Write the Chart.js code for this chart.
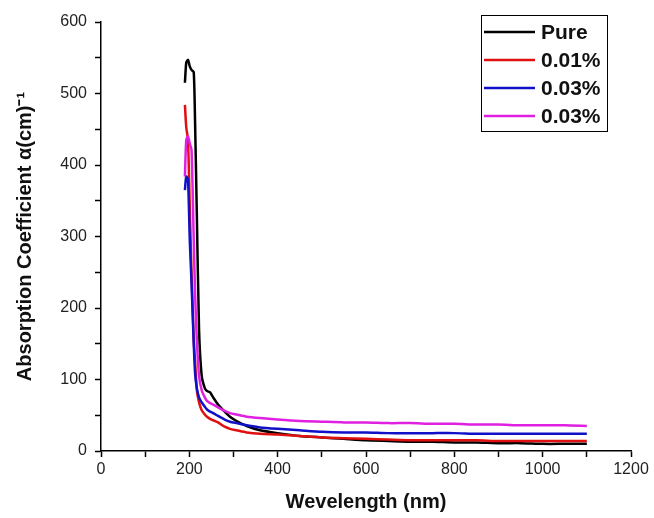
<!DOCTYPE html>
<html>
<head>
<meta charset="UTF-8">
<title>Absorption Coefficient</title>
<script src="https://cdn.jsdelivr.net/npm/chart.js"></script>
<style>
    body { margin: 0; background: #fff; }
    .wrap { position: relative; width: 654px; height: 518px; }
</style>
</head>
<body>
<div class="wrap"><canvas id="absChart" width="654" height="518"></canvas></div>
<script>
// data (wavelength in nm, alpha in cm^-1)
const wavelength = [190, 193, 197, 201, 205, 210, 213, 217, 222, 228, 235, 240, 247, 254, 265, 280, 292, 307, 330, 360, 400, 450, 500, 550, 600, 650, 700, 750, 800, 850, 900, 950, 1000, 1050, 1100];
const pure    = [515, 543, 547, 538, 533, 530, 460, 330, 170, 105, 88, 84, 82, 75, 65, 55, 48, 42, 35, 29, 25, 21, 19, 17, 15, 14, 13, 13, 12, 12, 11, 11, 10, 10, 10];
const pct001  = [484, 453, 435, 341, 249, 155, 125, 85, 68, 57, 51, 48, 45, 43, 40, 34, 31, 29, 26, 24, 23, 21, 19, 18, 17, 16, 15, 15, 15, 15, 14, 14, 14, 14, 14];
const pct003a = [365, 384, 380, 295, 235, 150, 109, 88, 75, 68, 62, 58, 55, 53, 49, 44, 41, 39, 36, 33, 31, 29, 27, 26, 26, 25, 25, 25, 25, 24, 24, 24, 24, 24, 24];
const pct003b = [384, 435, 440, 430, 421, 295, 220, 155, 105, 85, 75, 70, 67, 65, 61, 56, 53, 51, 48, 46, 44, 42, 41, 40, 40, 39, 39, 38, 38, 37, 37, 36, 36, 36, 35];
const seriesNames = ['Pure', '0.01%', '0.03%', '0.03%'];
const seriesColors = ['#000000', '#e01010', '#1010c8', '#e020e0'];

const xTicks = [0, 200, 400, 600, 800, 1000, 1200];
const yTicks = [0, 100, 200, 300, 400, 500, 600];

const FONT = 'Arial, "Liberation Sans", sans-serif';

function points(vals) {
    return wavelength.map((w, i) => ({ x: w, y: vals[i] }));
}

const allSeries = [pure, pct001, pct003a, pct003b];
const datasets = allSeries.map((vals, i) => ({
    label: seriesNames[i],
    data: points(vals),
    borderColor: seriesColors[i],
    backgroundColor: seriesColors[i],
    borderWidth: 2.5,
    pointRadius: 0,
    showLine: true,
    tension: 0.2,
    order: 4 - i
}));

// legend box drawn inside the plot, like the original
const boxLegend = {
    id: 'boxLegend',
    afterDraw(chart) {
        const ctx = chart.ctx;
        const left = 481, top = 15, w = 126, rowH = 28;
        ctx.save();
        ctx.strokeStyle = '#000';
        ctx.lineWidth = 1;
        ctx.strokeRect(left + 0.5, top + 0.5, w, rowH * 4 + 4);
        ctx.font = 'bold 21px ' + FONT;
        ctx.textBaseline = 'middle';
        chart.data.datasets.forEach((ds, i) => {
            const y = top + 17 + i * rowH;
            ctx.strokeStyle = ds.borderColor;
            ctx.lineWidth = 2.5;
            ctx.beginPath();
            ctx.moveTo(left + 3, y);
            ctx.lineTo(left + 54, y);
            ctx.stroke();
            ctx.fillStyle = '#111';
            ctx.fillText(ds.label, left + 60, y + 1);
        });
        ctx.restore();
    }
};

new Chart(document.getElementById('absChart'), {
    type: 'scatter',
    data: { datasets: datasets },
    plugins: [boxLegend],
    options: {
        responsive: false,
        animation: false,
        layout: { padding: { left: 0, top: 22, right: 23, bottom: 0 } },
        plugins: {
            legend: { display: false },
            tooltip: { enabled: false }
        },
        scales: {
            x: {
                type: 'linear',
                min: 0, max: 1200,
                afterFit(s) { s.height = 67; },
                afterBuildTicks(s) {
                    s.ticks = [];
                    for (let v = 0; v <= 1200; v += 100) s.ticks.push({ value: v });
                },
                ticks: {
                    color: '#222',
                    font: { family: FONT, size: 16 },
                    padding: 3,
                    autoSkip: false,
                    maxRotation: 0,
                    callback: v => xTicks.includes(v) ? v : ''
                },
                grid: {
                    display: true,
                    drawOnChartArea: false,
                    tickLength: 6,
                    tickColor: '#000',
                    tickWidth: 1.5
                },
                border: { color: '#000', width: 1.5 },
                title: {
                    display: true,
                    text: 'Wevelength (nm)',
                    color: '#111',
                    font: { family: FONT, size: 20, weight: 'bold' },
                    padding: { top: 2 }
                }
            },
            y: {
                type: 'linear',
                min: 0, max: 600,
                afterFit(s) { s.width = 101; },
                afterBuildTicks(s) {
                    s.ticks = [];
                    for (let v = 0; v <= 600; v += 50) s.ticks.push({ value: v });
                },
                ticks: {
                    color: '#222',
                    font: { family: FONT, size: 16 },
                    padding: 8,
                    autoSkip: false,
                    callback: v => yTicks.includes(v) ? v : ''
                },
                grid: {
                    display: true,
                    drawOnChartArea: false,
                    tickLength: 6,
                    tickColor: '#000',
                    tickWidth: 1.5
                },
                border: { color: '#000', width: 1.5 },
                title: {
                    display: true,
                    text: 'Absorption Coefficient α(cm)⁻¹',
                    color: '#111',
                    font: { family: FONT, size: 20, weight: 'bold' },
                    padding: { top: 13 }
                }
            }
        }
    }
});
</script>
</body>
</html>
